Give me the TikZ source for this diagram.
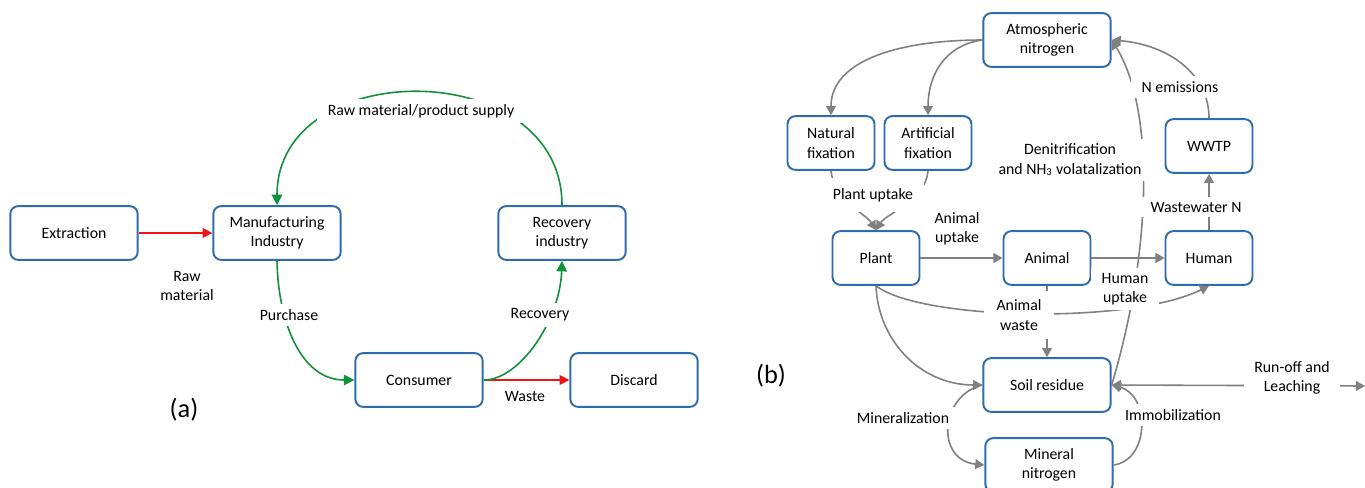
\documentclass[tikz,border=0pt]{standalone}
\usepackage{fontspec}
\setmainfont{Carlito}
\usetikzlibrary{arrows.meta}
\definecolor{boxblue}{RGB}{46,108,172}
\definecolor{flowgreen}{RGB}{16,145,56}
\definecolor{flowred}{RGB}{238,20,20}
\definecolor{flowgray}{RGB}{128,128,128}

\begin{document}
\begin{tikzpicture}[x=0.02cm,y=-0.02cm,
  every node/.style={font=\fontsize{9}{11}\selectfont},
  flowbox/.style={draw=boxblue,line width=1.1pt,rounded corners=4.5pt,minimum width=72.5pt,minimum height=30.6pt,align=center,inner sep=1pt},
  smallbox/.style={flowbox,minimum width=49.5pt},
  lbl/.style={fill=white,align=center,inner xsep=6pt,inner ysep=3pt},
  bigtag/.style={font=\fontsize{15}{18}\selectfont},
  grn/.style={draw=flowgreen,line width=0.9pt,-{Triangle[length=6pt,width=6pt]}},
  rd/.style={draw=flowred,line width=0.8pt,-{Triangle[length=5.5pt,width=5.5pt]}},
  gry/.style={draw=flowgray,line width=0.9pt,>={Triangle[length=5.2pt,width=5.6pt]},->}]
  \useasboundingbox (0,0) rectangle (1365,487);

  % (a)
  \node[flowbox] (extr) at (74,233) {Extraction};
  \node[flowbox] (manuf) at (277,233) {Manufacturing\\Industry};
  \node[flowbox] (recov) at (562,233) {Recovery\\industry};
  \node[flowbox] (cons) at (419,380) {Consumer};
  \node[flowbox] (disc) at (634,380) {Discard};
  \draw[rd] (extr) -- (manuf);
  \draw[rd] (cons) -- (disc);
  \draw[grn] (manuf.south) .. controls (278,320) and (300,380) .. (cons.west);
  \draw[grn] (cons.east) .. controls (520,380) and (560,320) .. (recov.south);
  \draw[grn] (recov.north) .. controls (562,55) and (277,55) .. (manuf.north);
  \node[lbl] (supply) at (421,111) {Raw material/product supply};
  \node[lbl] (purch) at (289,315) {Purchase};
  \node[lbl] (recovlbl) at (540,315) {Recovery};
  \node[lbl] (rawmat) at (187,286) {Raw\\material};
  \node[lbl] (wastelbl) at (525,396) {Waste};
  \node[bigtag] (taga) at (184,410) {(a)};

  % (b)
  \node[flowbox] (atmo) at (1047,40) {Atmospheric\\nitrogen};
  \foreach \nm/\px/\py/\txt in {natfix/831/143/{Natural\\fixation}, artfix/928/143/{Artificial\\fixation},
      wwtp/1209/146/WWTP, plant/876/258/Plant, animal/1047/258/Animal, human/1209/258/Human}
    \node[smallbox] (\nm) at (\px,\py) {\txt};
  \node[flowbox] (soil) at (1047,385) {Soil residue};
  \node[flowbox] (mineral) at (1049,465) {Mineral\\nitrogen};
  \coordinate (outflow) at (1365,386);

  \draw[gry] (atmo.west) .. controls (900,40) and (831,60) .. (natfix.north);
  \draw[gry] (atmo.west) .. controls (945,45) and (928,75) .. (artfix.north);
  \draw[gry] (natfix.south) .. controls (834,200) and (866,214) .. (plant.north);
  \draw[gry] (artfix.south) .. controls (926,200) and (886,214) .. (plant.north);
  \draw[gry] (plant) -- (animal);
  \draw[gry] (animal) -- (human);
  \draw[gry] (animal) -- (soil);
  \draw[gry] (plant.south) .. controls (920,320) and (1130,325) .. (human.south);
  \draw[gry] (plant.south) .. controls (878,340) and (920,385) .. (soil.west);
  \draw[gry] (soil.east) .. controls (1152,250) and (1155,110) .. (atmo.east);
  \draw[gry] (human) -- (wwtp);
  \draw[gry] (wwtp.north) .. controls (1209,75) and (1170,45) .. (atmo.east);
  \draw[gry] (soil.west) .. controls (940,395) and (935,460) .. (mineral.west);
  \draw[gry] (mineral.east) .. controls (1150,460) and (1150,395) .. (soil.east);
  \draw[gry,<->] (soil.east) -- (outflow);

  \foreach \nm/\px/\py/\txt in {animalup/957/229/{Animal\\uptake},
      denit/1070/160/{Denitrification\\and NH\textsubscript{3} volatalization}, emis/1180/87/N emissions,
      wastew/1196/207/Wastewater N, mineraliz/903/418/Mineralization, immobiliz/1173/415/Immobilization,
      runoff/1292/378/{Run-off and\\Leaching}}
    \node[lbl] (\nm) at (\px,\py) {\txt};
  \node[lbl,inner ysep=6pt] (plantup) at (873,195) {Plant uptake};
  \node[lbl,minimum width=36pt] (humanup) at (1125,289) {Human\\uptake};
  \node[lbl,minimum width=40pt,inner ysep=5pt] (animwaste) at (1019,315) {Animal\\waste};
  \node[bigtag] (tagb) at (771,376) {(b)};
\end{tikzpicture}
\end{document}
